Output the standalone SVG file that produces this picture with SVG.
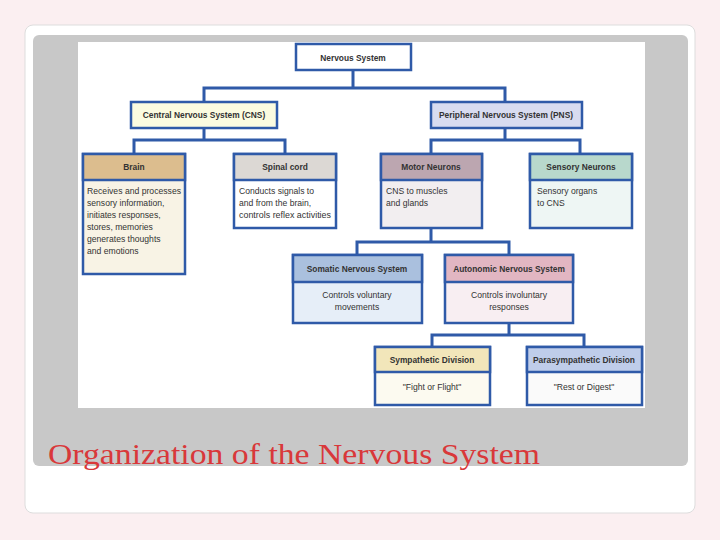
<svg xmlns="http://www.w3.org/2000/svg" width="720" height="540" viewBox="0 0 720 540">
<style>
.b{stroke:#2f5aa8;stroke-width:2.5}
.t{font-family:"Liberation Sans",Arial,sans-serif;font-size:8.6px;fill:#333}
.h{font-family:"Liberation Sans",Arial,sans-serif;font-size:8.4px;font-weight:bold;fill:#333}
.c{fill:none;stroke:#2f5aa8;stroke-width:3}
</style>
<rect width="720" height="540" fill="#fbeff1"/>
<rect x="25" y="25" width="670" height="488" rx="8" fill="#fff" stroke="#ddd"/>
<rect x="33" y="35" width="655" height="431" rx="6" fill="#c8c8c8"/>
<rect x="78" y="42" width="567" height="366" fill="#fff"/>
<g id="connectors">
<path class="c" d="M353 70V88M204 102V88H505V102"/>
<path class="c" d="M204 128V140M134 154V140H285V154"/>
<path class="c" d="M505 128V140M431 154V140H580V154"/>
<path class="c" d="M431 228V242M357 255V242H509V255"/>
<path class="c" d="M509 323V335M432 347V335H584V347"/>
</g>
<g id="ns"><rect class="b" x="296" y="44" width="115" height="26" fill="#fff"/><text class="h" x="353" y="61" text-anchor="middle" font-size="11">Nervous System</text></g>
<g id="cns"><rect class="b" x="131" y="102" width="146" height="26" fill="#fbfbe0"/><text class="h" x="204" y="118" text-anchor="middle">Central Nervous System (CNS)</text></g>
<g id="pns"><rect class="b" x="431" y="102" width="151" height="26" fill="#d8dcf0"/><text class="h" x="506" y="118" text-anchor="middle">Peripheral Nervous System (PNS)</text></g>
<g id="brain"><rect class="b" x="83" y="154" width="102" height="120" fill="#f8f3e5"/><rect class="b" x="83" y="154" width="102" height="26" fill="#dcbd8e"/><text class="h" x="134" y="170" text-anchor="middle">Brain</text>
<text class="t"><tspan x="87" y="194" textLength="94" lengthAdjust="spacingAndGlyphs">Receives and processes</tspan><tspan x="87" y="206">sensory information,</tspan><tspan x="87" y="218">initiates responses,</tspan><tspan x="87" y="230">stores, memories</tspan><tspan x="87" y="242">generates thoughts</tspan><tspan x="87" y="254">and emotions</tspan></text></g>
<g id="spinal"><rect class="b" x="234" y="154" width="102" height="74" fill="#fff"/><rect class="b" x="234" y="154" width="102" height="26" fill="#dcd8d4"/><text class="h" x="285" y="170" text-anchor="middle">Spinal cord</text>
<text class="t"><tspan x="239" y="194">Conducts signals to</tspan><tspan x="239" y="206">and from the brain,</tspan><tspan x="239" y="218" textLength="92" lengthAdjust="spacingAndGlyphs">controls reflex activities</tspan></text></g>
<g id="motor"><rect class="b" x="381" y="154" width="101" height="74" fill="#f2eef0"/><rect class="b" x="381" y="154" width="101" height="26" fill="#bca6b0"/><text class="h" x="431" y="170" text-anchor="middle">Motor Neurons</text>
<text class="t"><tspan x="386" y="194">CNS to muscles</tspan><tspan x="386" y="206">and glands</tspan></text></g>
<g id="sensory"><rect class="b" x="530" y="154" width="102" height="74" fill="#eef6f4"/><rect class="b" x="530" y="154" width="102" height="26" fill="#b8d8cc"/><text class="h" x="581" y="170" text-anchor="middle">Sensory Neurons</text>
<text class="t"><tspan x="537" y="194">Sensory organs</tspan><tspan x="537" y="206">to CNS</tspan></text></g>
<g id="somatic"><rect class="b" x="293" y="255" width="129" height="68" fill="#e6eef8"/><rect class="b" x="293" y="255" width="129" height="27" fill="#aac0de"/><text class="h" x="357" y="272" text-anchor="middle">Somatic Nervous System</text>
<text class="t" text-anchor="middle"><tspan x="357" y="298">Controls voluntary</tspan><tspan x="357" y="310">movements</tspan></text></g>
<g id="autonomic"><rect class="b" x="445" y="255" width="128" height="68" fill="#f8eef2"/><rect class="b" x="445" y="255" width="128" height="27" fill="#e2b6c2"/><text class="h" x="509" y="272" text-anchor="middle">Autonomic Nervous System</text>
<text class="t" text-anchor="middle"><tspan x="509" y="298">Controls involuntary</tspan><tspan x="509" y="310">responses</tspan></text></g>
<g id="sympathetic"><rect class="b" x="375" y="347" width="115" height="58" fill="#fcfaf0"/><rect class="b" x="375" y="347" width="115" height="25" fill="#f2e6ba"/><text class="h" x="432" y="363" text-anchor="middle">Sympathetic Division</text>
<text class="t" text-anchor="middle" x="432" y="390">"Fight or Flight"</text></g>
<g id="parasympathetic"><rect class="b" x="527" y="347" width="115" height="58" fill="#fafafa"/><rect class="b" x="527" y="347" width="115" height="25" fill="#bfcdea"/><text class="h" x="584" y="363" text-anchor="middle">Parasympathetic Division</text>
<text class="t" text-anchor="middle" x="584" y="390">"Rest or Digest"</text></g>
<text x="48" y="464" font-family="'Liberation Serif',serif" font-size="30" fill="#d9383a" textLength="492" lengthAdjust="spacingAndGlyphs">Organization of the Nervous System</text>
</svg>
